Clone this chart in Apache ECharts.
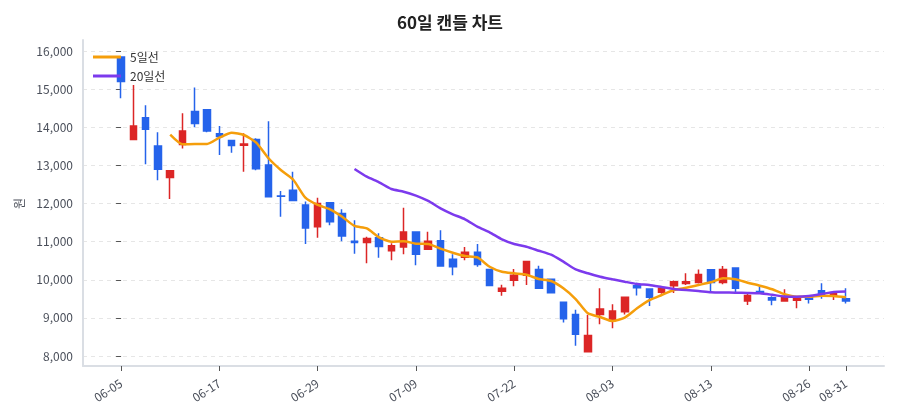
<!DOCTYPE html>
<html>
<head>
<meta charset="utf-8">
<script src="https://cdn.jsdelivr.net/npm/echarts@6/dist/echarts.min.js"></script>
<style>
    html, body { margin: 0; padding: 0; background: #fff; }
    #candle-chart { width: 900px; height: 420px; }
</style>
</head>
<body>
<div id="candle-chart"></div>
<script>
var dates = [
    '06-05', '06-06', '06-08', '06-10', '06-11', '06-12', '06-14', '06-15', '06-17', '06-18',
    '06-20', '06-21', '06-22', '06-24', '06-25', '06-27', '06-29', '07-01', '07-02', '07-03',
    '07-04', '07-05', '07-07', '07-08', '07-09', '07-10', '07-12', '07-13', '07-15', '07-16',
    '07-18', '07-19', '07-22', '07-23', '07-24', '07-26', '07-27', '07-29', '07-31', '08-01',
    '08-03', '08-04', '08-05', '08-06', '08-08', '08-09', '08-10', '08-12', '08-13', '08-14',
    '08-16', '08-17', '08-19', '08-20', '08-22', '08-24', '08-26', '08-28', '08-29', '08-31'
];

var opens = [
    15840, 13680, 14250, 13510, 12680, 13550, 14410, 14460, 13830, 13650,
    13530, 13680, 13010, 12200, 12350, 11960, 11390, 12020, 11740, 11010,
    10980, 11100, 10760, 10860, 11250, 10800, 11020, 10540, 10590, 10720,
    10270, 9700, 9990, 10120, 10270, 10010, 9410, 9090, 8110, 9090,
    8930, 9160, 9840, 9760, 9670, 9840, 9900, 9930, 10260, 9930,
    10310, 9440, 9690, 9530, 9440, 9460, 9540, 9710, 9570, 9500
];
var closes = [
    15200, 14030, 13950, 12900, 12860, 13900, 14100, 13900, 13760, 13520,
    13560, 12910, 12180, 12190, 12080, 11360, 12000, 11520, 11150, 10980,
    11080, 10870, 10890, 11250, 10670, 11010, 10360, 10340, 10720, 10400,
    9850, 9780, 10120, 10480, 9780, 9660, 8980, 8570, 8540, 9230,
    9180, 9540, 9790, 9540, 9780, 9950, 9950, 10140, 9930, 10270,
    9780, 9590, 9650, 9470, 9560, 9530, 9490, 9570, 9630, 9440
];
var lows = [
    14760, 13680, 13030, 12610, 12120, 13440, 14000, 13870, 13270, 13330,
    12830, 12870, 12170, 11650, 12080, 10940, 11100, 11430, 11010, 10680,
    10430, 10580, 10510, 10670, 10380, 10800, 10355, 10120, 10510, 10340,
    9840, 9580, 9830, 9860, 9780, 9650, 8880, 8270, 8110, 8830,
    8730, 9090, 9590, 9310, 9630, 9650, 9860, 9900, 9650, 9880,
    9670, 9340, 9630, 9330, 9440, 9250, 9380, 9500, 9470, 9380
];
var highs = [
    15860, 15110, 14580, 13870, 12860, 14370, 15040, 14470, 14030, 13670,
    13840, 13710, 14160, 12330, 12830, 12050, 12150, 12030, 11850, 11560,
    11130, 11220, 10960, 11890, 11260, 11260, 11300, 10670, 10860, 10940,
    10280, 9870, 10280, 10490, 10370, 10020, 9415, 9210, 9080, 9780,
    9360, 9545, 9920, 9760, 9820, 9980, 10170, 10270, 10260, 10360,
    10330, 9650, 9820, 9570, 9750, 9570, 9570, 9910, 9660, 9780
];

var ma5 = [
    null, null, null, null, 13805, 13553, 13561, 13561, 13726, 13857,
    13797, 13595, 13186, 12879, 12630, 12152, 11961, 11848, 11654, 11410,
    11349, 11113, 10998, 11009, 10946, 10938, 10815, 10710, 10623, 10585,
    10342, 10211, 10169, 10132, 10020, 9967, 9776, 9495, 9119, 9022,
    8918, 9005, 9251, 9465, 9600, 9731, 9791, 9862, 9933, 10038,
    10012, 9923, 9844, 9750, 9618, 9555, 9555, 9582, 9574, 9540
];
var ma20 = [
    null, null, null, null, null, null, null, null, null, null,
    null, null, null, null, null, null, null, null, null, 12905,
    12703, 12556, 12380, 12310, 12205, 12066, 11874, 11717, 11586, 11393,
    11245, 11061, 10938, 10867, 10762, 10657, 10474, 10274, 10169, 10080,
    10012, 9949, 9889, 9860, 9810, 9760, 9730, 9705, 9675, 9665,
    9660, 9655, 9645, 9605, 9560, 9555, 9575, 9625, 9680, 9690
];

var labelIndexes = [0, 8, 16, 24, 32, 40, 48, 56, 59];

var candleData = dates.map(function (d, i) {
    return [i, opens[i], closes[i], lows[i], highs[i]];
});
var toPoints = function (arr) {
    return arr.map(function (v, i) { return [i, v]; });
};

var fontFamily = '"Noto Sans CJK KR", "Noto Sans", sans-serif',
    frameColor = '#dadee4',
    labelColor = '#4a4f5a',
    candleChart = echarts.init(document.getElementById('candle-chart'), null, { renderer: 'canvas' });

var candleOption = {
    animation: false,
    textStyle: { fontFamily: fontFamily },
    title: {
        text: '60일 캔들 차트',
        left: 'center',
        top: 9,
        textStyle: { fontSize: 17, fontWeight: 'bold', color: '#222', fontFamily: fontFamily }
    },
    legend: {
        orient: 'vertical',
        left: 88,
        top: 46,
        itemWidth: 28,
        itemHeight: 3,
        itemGap: 7,
        icon: 'rect',
        textStyle: { fontSize: 12, color: '#333', padding: [0, 0, 0, 4] },
        data: ['5일선', '20일선']
    },
    grid: [
        { left: 83, right: 16, top: 51, bottom: 64 },
        { left: 83, right: 16, top: 40, bottom: 54 }
    ],
    xAxis: [{
        type: 'value',
        gridIndex: 0,
        min: -3.1,
        max: 62.1,
        offset: 10,
        splitLine: { show: false },
        axisLine: { show: false },
        axisTick: {
            show: true,
            length: 5,
            customValues: labelIndexes,
            lineStyle: { color: '#555' }
        },
        axisLabel: {
            customValues: labelIndexes,
            rotate: 33,
            margin: 16,
            fontSize: 12,
            color: labelColor,
            formatter: function (value) {
                return dates[Math.round(value)] || '';
            }
        }
    }, {
        type: 'value',
        gridIndex: 1,
        min: 0,
        max: 1,
        axisLine: { show: true, lineStyle: { color: frameColor, width: 2 } },
        axisTick: { show: false },
        axisLabel: { show: false },
        splitLine: { show: false }
    }],
    yAxis: [{
        type: 'value',
        gridIndex: 0,
        min: 8000,
        max: 16000,
        interval: 1000,
        name: '원',
        nameLocation: 'middle',
        nameRotate: 90,
        nameGap: 58,
        nameTextStyle: { fontSize: 12, color: labelColor },
        axisLine: { show: false },
        axisTick: { show: true, length: 5, lineStyle: { color: '#555' } },
        axisLabel: {
            margin: 10,
            fontSize: 12,
            color: labelColor,
            formatter: function (value) {
                return value.toLocaleString('en-US');
            }
        },
        splitLine: { show: true, lineStyle: { color: '#e6e6e6', type: [4, 4], width: 1 } }
    }, {
        type: 'value',
        gridIndex: 1,
        min: 0,
        max: 1,
        axisLine: { show: true, lineStyle: { color: frameColor, width: 2 } },
        axisTick: { show: false },
        axisLabel: { show: false },
        splitLine: { show: false }
    }],
    series: [{
        name: '캔들',
        type: 'candlestick',
        xAxisIndex: 0,
        yAxisIndex: 0,
        barWidth: 7,
        encode: { x: 0, y: [1, 2, 3, 4] },
        itemStyle: {
            color: '#dc2626',
            color0: '#2563eb',
            borderColor: '#dc2626',
            borderColor0: '#2563eb',
            borderWidth: 1.5
        },
        data: candleData
    }, {
        name: '5일선',
        type: 'line',
        xAxisIndex: 0,
        yAxisIndex: 0,
        z: 3,
        smooth: 0.2,
        showSymbol: false,
        symbol: 'none',
        lineStyle: { color: '#f59e0b', width: 2.5 },
        itemStyle: { color: '#f59e0b' },
        data: toPoints(ma5)
    }, {
        name: '20일선',
        type: 'line',
        xAxisIndex: 0,
        yAxisIndex: 0,
        z: 3,
        smooth: 0.2,
        showSymbol: false,
        symbol: 'none',
        lineStyle: { color: '#7c3aed', width: 2.5 },
        itemStyle: { color: '#7c3aed' },
        data: toPoints(ma20)
    }]
};

candleChart.setOption(candleOption);
</script>
</body>
</html>
